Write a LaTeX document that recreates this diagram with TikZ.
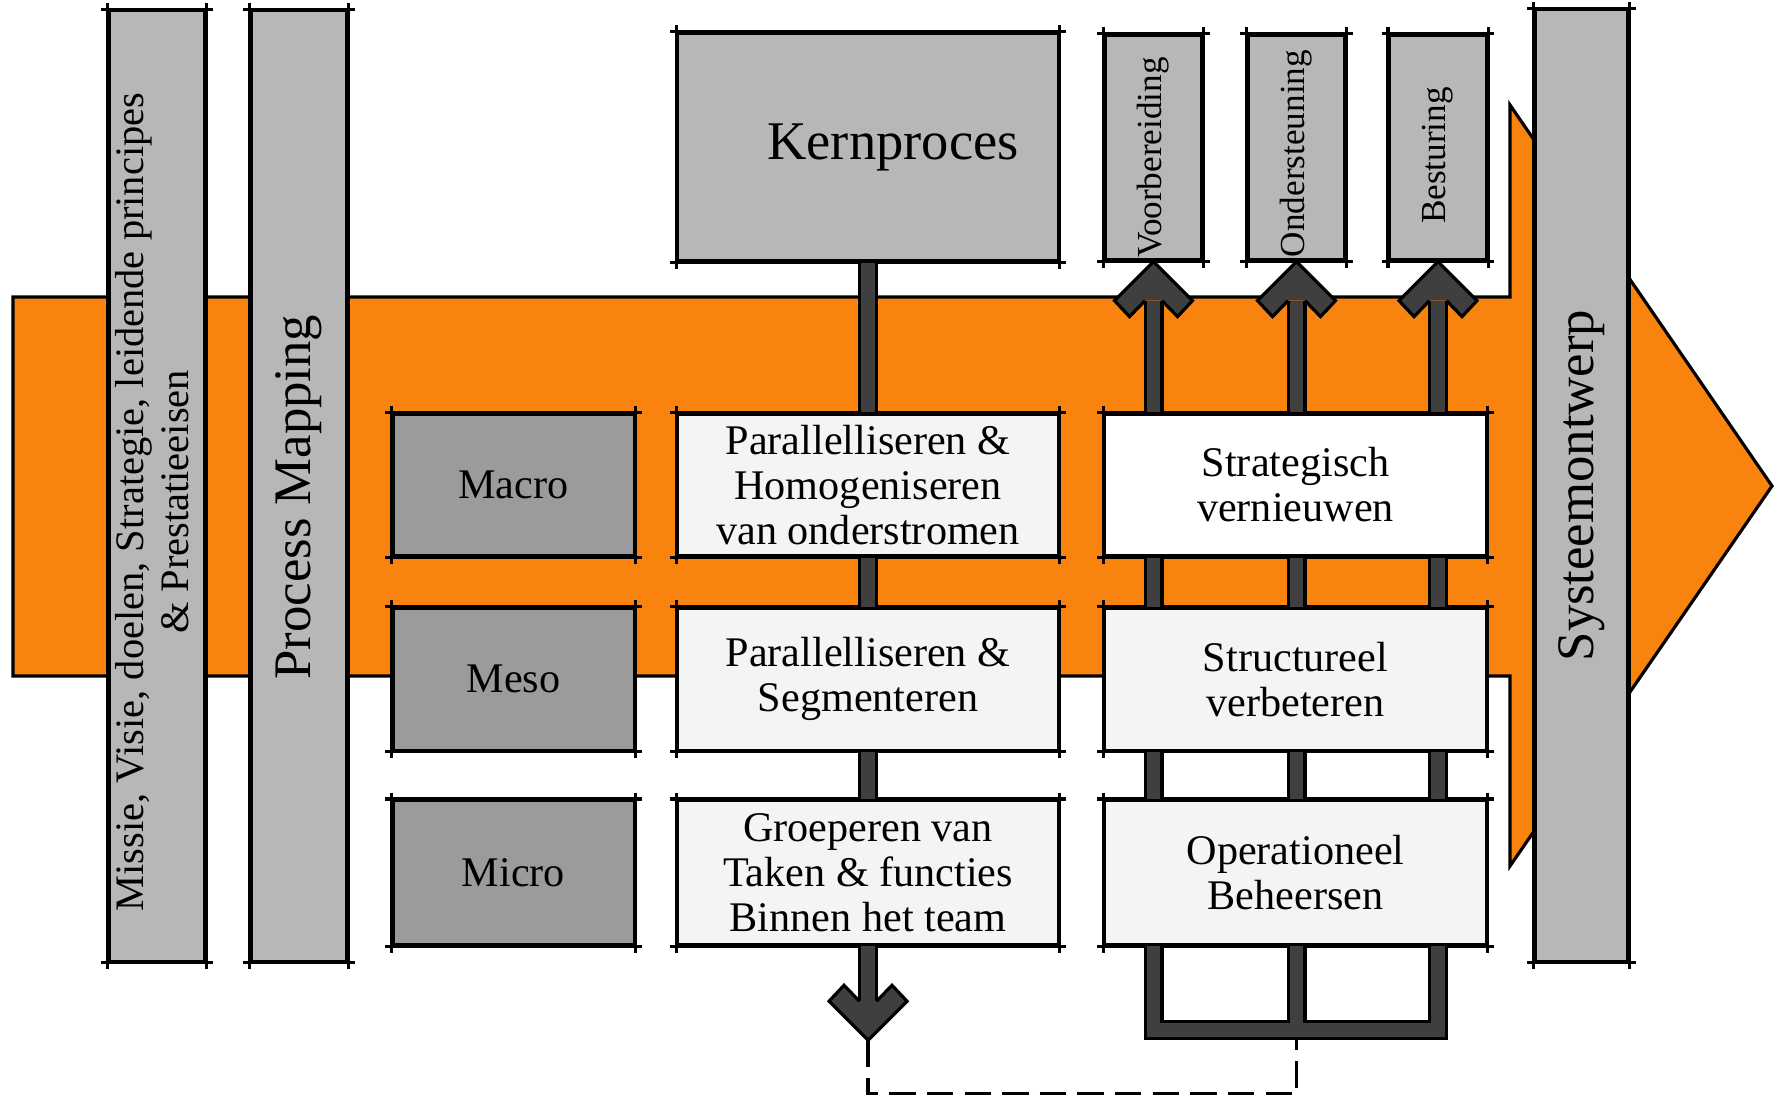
\documentclass[tikz,border=0pt]{standalone}
\usepackage{fontspec}
\setmainfont{Liberation Serif}
\usepackage{graphicx}
\usetikzlibrary{positioning, calc}

\definecolor{flowOrange}{RGB}{248,131,14}
\definecolor{barGray}{RGB}{183,183,183}
\definecolor{levelGray}{RGB}{155,155,155}
\definecolor{paleGray}{RGB}{244,244,244}
\definecolor{connGray}{RGB}{63,63,63}

\tikzset{
    overshoot/.style={draw=black, line width=0.9pt, shorten <=-1.8pt, shorten >=-1.8pt},
    box/.style={draw=black, line width=0.9pt, inner sep=0pt, align=center,
        font=\fontsize{12}{12.8}\selectfont,
        append after command={
            (\tikzlastnode.north west) edge[overshoot] (\tikzlastnode.north east)
            (\tikzlastnode.north east) edge[overshoot] (\tikzlastnode.south east)
            (\tikzlastnode.south east) edge[overshoot] (\tikzlastnode.south west)
            (\tikzlastnode.south west) edge[overshoot] (\tikzlastnode.north west)
        }},
    bar/.style={box, fill=barGray},
    topbox/.style={box, fill=barGray, minimum width=0.97cm, minimum height=2.25cm,
        font=\fontsize{10}{12}\selectfont},
    levelbox/.style={box, fill=levelGray, minimum width=2.41cm, minimum height=1.42cm},
    actbox/.style={box, fill=paleGray, minimum width=3.80cm, minimum height=1.42cm},
    flow/.style={draw=black, line width=0.9pt, fill=flowOrange},
    conn/.style={draw=black, line width=0.9pt, double=connGray, double distance=3.9pt},
    headfill/.style={fill=connGray, draw=black, line width=0.9pt},
    dashline/.style={draw=black, line width=1.1pt, dash pattern=on 7.5pt off 3.2pt},
    chev/.pic={
        \filldraw[headfill] (-8.5,39) -- (-24,55) -- (-39,39) -- (0,0)
            -- (39,39) -- (24,55) -- (8.5,39);
    }
}

\begin{document}
\begin{tikzpicture}[x=0.01cm, y=-0.01cm]
    \useasboundingbox (0,0) rectangle (1777,1094);

    % Big orange flow arrow
    \draw[flow] (13,297) -- (1510,297) -- (1510,105) -- (1772,486)
        -- (1510,866) -- (1510,676) -- (13,676) -- cycle;

    % Vertical bars
    \node[bar, minimum width=0.96cm, minimum height=9.5cm,
        font=\fontsize{11.5}{12.8}\selectfont] (missie) at (157,486)
        {\rotatebox{90}{\begin{tabular}{@{}c@{}}Missie, Visie, doelen, Strategie, leidende principes\\ \& Prestatieeisen\end{tabular}\hspace*{0.32cm}}};
    \node[bar, minimum width=0.96cm, minimum height=9.5cm,
        font=\fontsize{15}{18}\selectfont] (mapping) at (299,486)
        {\rotatebox{90}{Process Mapping\hspace*{0.22cm}}};
    \node[bar, minimum width=0.93cm, minimum height=9.51cm,
        font=\fontsize{15}{18}\selectfont] (systeem) at (1581.5,485.5)
        {\rotatebox{90}{Systeemontwerp}};

    % Top boxes
    \node[box, fill=barGray, minimum width=3.80cm, minimum height=2.28cm,
        font=\fontsize{15.5}{18}\selectfont] (kern) at (868,147) {\hspace*{0.5cm}Kernproces};
    \node[topbox] (vorb) at (1153.5,147.5) {\rotatebox{90}{Voorbereiding\hspace*{0.2cm}}};
    \node[topbox] (onder) at (1296.5,147.5) {\rotatebox{90}{Ondersteuning\hspace*{0.12cm}}};
    \node[topbox] (best) at (1438,147.5) {\rotatebox{90}{Besturing\hspace*{0.16cm}}};

    % Levels
    \node[levelbox] (macro) at (513.5,485) {Macro};
    \node[levelbox, below=0.49cm of macro] (meso) {Meso};
    \node[levelbox, below=0.47cm of meso, minimum height=1.44cm] (micro) {Micro};

    % Kernproces column
    \node[actbox] (homog) at (868,485) {Parallelliseren \&\\Homogeniseren\\van onderstromen};
    \node[actbox, below=0.49cm of homog] (segm) {Parallelliseren \&\\Segmenteren};
    \node[actbox, below=0.47cm of segm, minimum height=1.44cm] (groep)
        {Groeperen van\\Taken \& functies\\Binnen het team};

    % Support column
    \node[actbox, fill=white, minimum width=3.81cm] (strat) at (1295.5,485) {Strategisch\\vernieuwen};
    \node[actbox, minimum width=3.81cm, below=0.49cm of strat] (struct) {Structureel\\verbeteren};
    \node[actbox, minimum width=3.81cm, below=0.47cm of struct, minimum height=1.44cm] (oper)
        {Operationeel\\Beheersen};

    % Kernproces connectors
    \draw[conn] (kern) -- (homog);
    \draw[conn] (homog) -- (segm);
    \draw[conn] (segm) -- (groep);
    \coordinate[below=0.94cm of groep.south] (downtip);
    \draw[conn] (groep) -- ($(downtip)+(0,-39)$);
    \pic[rotate=180] at (downtip) {chev};

    % Up arrows and links between support boxes
    \foreach \col in {vorb, onder, best} {
        \draw[conn] (\col.south |- strat.north) -- ($(\col.south)+(0,39)$);
        \pic at (\col.south) {chev};
        \draw[conn] (\col.south |- strat.south) -- (\col.south |- struct.north);
        \draw[conn] (\col.south |- struct.south) -- (\col.south |- oper.north);
    }

    % Feedback loop below
    \coordinate (ubase) at ($(onder.south |- oper.south)+(0,84)$);
    \draw[conn] (vorb.south |- oper.south) |- (ubase) -| (best.south |- oper.south);
    \draw[conn] (onder.south |- oper.south) -- ($(ubase)+(0,-7)$);
    \draw[dashline] (downtip) -- ++(0,54) -| ($(ubase)+(0,10)$);
\end{tikzpicture}
\end{document}
